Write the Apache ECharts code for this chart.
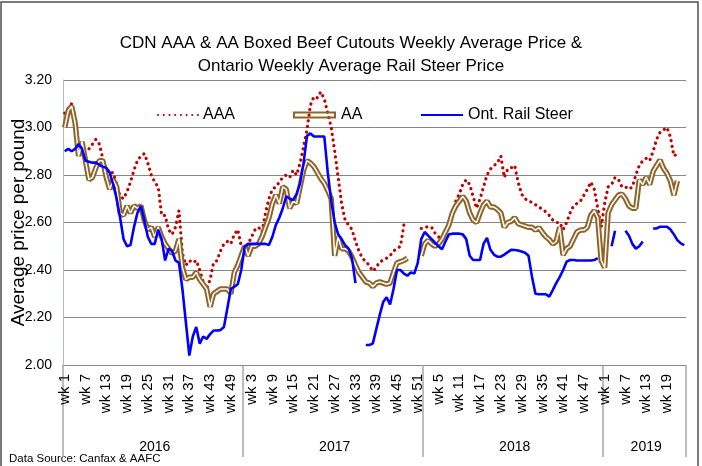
<!DOCTYPE html>
<html><head><meta charset="utf-8">
<script src="https://cdn.jsdelivr.net/npm/echarts@6/dist/echarts.min.js"></script>
<style>html,body{margin:0;padding:0;background:#fff}#c{width:702px;height:466px}</style>
</head><body><div id="c"></div>
<script>
// ---- data ----
const years = ['2016', '2017', '2018', '2019'];
const weekCounts = [52, 52, 52, 24];

const aaa2016 = [3.06,3.08,3.10,3.03,2.93,2.90,2.91,2.91,2.93,2.95,
  2.93,2.87,2.82,2.81,2.81,2.76,2.71,2.70,2.73,2.77,
  2.82,2.86,2.88,2.89,2.85,2.80,2.77,2.75,2.63,2.63,
  2.57,2.55,2.58,2.65,2.47,2.42,2.44,2.43,2.44,2.40,
  2.35,2.32,2.36,2.43,2.44,2.48,2.51,2.52,2.51,2.55,
  2.57,2.50];
const aaa2017 = [2.49,2.51,2.54,2.57,2.58,2.56,2.64,2.70,2.74,2.75,
  2.77,2.79,2.80,2.79,2.82,2.80,2.85,2.92,2.99,3.095,
  3.13,3.125,3.15,3.12,3.06,3.00,2.90,2.79,2.68,2.61,
  2.59,2.57,2.52,2.48,2.45,2.435,2.42,2.395,2.41,2.435,
  2.44,2.45,2.46,2.48,2.49,2.50,2.59,null,null,null,
  null,2.575];
const aaa2018 = [2.58,2.582,2.58,2.555,2.54,2.527,2.555,2.58,2.64,2.69,
  2.72,2.76,2.78,2.76,2.71,2.66,2.70,2.75,2.80,2.825,
  2.84,2.85,2.88,2.79,2.825,2.83,2.84,2.77,2.72,2.70,
  2.69,2.685,2.675,2.665,2.655,2.645,2.63,2.61,2.60,2.60,
  2.57,2.60,2.64,2.67,2.68,2.69,2.715,2.74,2.77,2.74,
  2.66,2.58];
const aaa2019 = [2.68,2.75,2.76,2.79,2.78,2.75,2.75,2.74,2.75,2.80,
  2.84,2.86,2.87,2.86,2.90,2.95,2.98,2.99,3.00,2.96,
  2.88,2.89,null,null];

const aa2016 = [3.00,3.07,3.09,3.02,2.88,2.94,2.86,2.78,2.79,2.83,
  2.86,2.86,2.79,2.74,2.78,2.75,2.64,2.63,2.67,2.64,
  2.67,2.66,2.67,2.61,2.57,2.58,2.54,2.58,2.54,2.51,
  2.49,2.47,2.48,2.53,2.41,2.36,2.37,2.37,2.39,2.36,
  2.34,2.32,2.245,2.30,2.31,2.32,2.32,2.32,2.30,2.39,
  2.42,2.46];
const aa2017 = [2.50,2.46,2.50,2.50,2.51,2.54,2.58,2.62,2.68,2.716,
  2.68,2.75,2.74,2.66,2.69,2.68,2.75,2.82,2.86,2.85,
  2.835,2.81,2.785,2.765,2.735,2.70,2.46,2.54,2.49,2.49,
  2.48,2.455,2.42,2.39,2.37,2.35,2.345,2.33,2.345,2.35,
  2.345,2.34,2.345,2.39,2.43,2.435,2.44,2.45,null,null,
  null,2.46];
const aa2018 = [2.51,2.525,2.51,2.50,2.51,2.53,2.56,2.59,2.64,2.67,
  2.69,2.71,2.69,2.64,2.61,2.60,2.64,2.675,2.69,2.665,
  2.665,2.655,2.64,2.58,2.60,2.605,2.62,2.595,2.59,2.585,
  2.58,2.58,2.568,2.578,2.558,2.54,2.528,2.51,2.52,2.58,
  2.463,2.49,2.50,2.53,2.56,2.568,2.568,2.58,2.63,2.65,
  2.62,2.44];
const aa2019 = [2.41,2.64,2.675,2.695,2.715,2.72,2.70,2.67,2.66,2.66,
  2.78,2.76,2.79,2.76,2.815,2.84,2.863,2.828,2.807,2.775,
  2.715,2.775,null,null];

const ont2016 = [2.90,2.91,2.90,2.91,2.93,2.91,2.86,2.856,2.852,2.852,
  2.842,2.835,2.83,2.81,2.76,2.70,2.62,2.53,2.50,2.505,
  2.58,2.64,2.67,2.61,2.54,2.51,2.51,2.57,2.53,2.44,
  2.49,2.48,2.44,2.43,2.32,2.18,2.04,2.12,2.16,2.09,
  2.12,2.11,2.13,2.145,2.145,2.147,2.16,2.24,2.32,2.33,
  2.34,2.40];
const ont2017 = [2.50,2.51,2.51,2.51,2.51,2.51,2.51,2.505,2.54,2.59,
  2.62,2.66,2.71,2.70,2.695,2.72,2.765,2.85,2.965,2.975,
  2.962,2.962,2.962,2.962,2.81,2.69,2.60,2.55,2.53,2.505,
  2.49,2.45,2.345,null,null,2.084,2.084,2.09,2.15,2.21,
  2.265,2.285,2.255,2.32,2.40,2.40,2.385,2.376,2.39,2.385,
  2.43,2.53];
const ont2018 = [2.56,2.545,2.53,2.515,2.50,2.487,2.52,2.55,2.553,2.553,
  2.553,2.55,2.53,2.46,2.442,2.442,2.442,2.51,2.535,2.485,
  2.465,2.456,2.456,2.465,2.475,2.485,2.484,2.482,2.478,2.473,
  2.46,2.372,2.30,2.298,2.298,2.298,2.288,2.315,2.345,2.37,
  2.40,2.435,2.442,2.442,2.44,2.44,2.44,2.44,2.44,2.442,
  2.45,null];
const ont2019 = [null,null,2.50,2.565,null,null,2.565,2.545,2.51,2.49,
  2.50,2.52,null,null,2.575,2.575,2.582,2.582,2.582,2.571,
  2.55,2.526,2.512,2.505];

const yMin = 2.0, yMax = 3.2, yStep = 0.2;

// ---- derived ----
const aaa = [].concat(aaa2016, aaa2017, aaa2018, aaa2019);
const aa = [].concat(aa2016, aa2017, aa2018, aa2019);
const ont = [].concat(ont2016, ont2017, ont2018, ont2019);
const weekCats = [], yearCats = [], yearStarts = [], yearMids = [];
let acc = 0;
years.forEach((y, k) => {
  yearStarts.push(acc);
  yearMids.push(acc + Math.floor(weekCounts[k] / 2));
  for (let w = 1; w <= weekCounts[k]; w++) { weekCats.push('wk ' + w); yearCats.push(y); }
  acc += weekCounts[k];
});

const FONT = "'Liberation Sans', Arial, sans-serif";
const BROWN = '#8f6428';

const chart = echarts.init(document.getElementById('c'), null, {renderer: 'canvas'});
chart.setOption({
  animation: false,
  backgroundColor: '#fff',
  textStyle: {fontFamily: FONT, color: '#000'},
  title: {
    text: 'CDN AAA & AA Boxed Beef Cutouts Weekly Average Price &\nOntario Weekly Average Rail Steer Price',
    left: 'center', top: 27,
    textStyle: {fontFamily: FONT, fontSize: 17, fontWeight: 'normal', color: '#000', lineHeight: 23}
  },
  legend: [
    {data: ['AAA'], left: 152, top: 102, itemWidth: 40, itemHeight: 14, itemStyle: {opacity: 0},
     textStyle: {fontFamily: FONT, fontSize: 16, color: '#000'}},
    {data: [{name: 'AA', icon: 'path://M0,0H43V7H0Z M2,2V5H41V2Z'}], left: 288, top: 102, itemWidth: 43, itemHeight: 7,
     textStyle: {fontFamily: FONT, fontSize: 16, color: '#000'}},
    {data: ['Ont. Rail Steer'], left: 415, top: 102, itemWidth: 42, itemHeight: 14, itemStyle: {opacity: 0},
     textStyle: {fontFamily: FONT, fontSize: 16, color: '#000'}}
  ],
  grid: {left: 63, right: 16, top: 80, bottom: 101, containLabel: false, outerBoundsMode: 'none'},
  xAxis: [
    {type: 'category', data: weekCats, boundaryGap: true,
     axisLine: {lineStyle: {color: '#868686', width: 1}},
     axisTick: {show: false},
     axisLabel: {interval: 5, rotate: 90, fontSize: 15, margin: 9, color: '#000', fontFamily: FONT}},
    {type: 'category', data: yearCats, boundaryGap: true, position: 'bottom',
     axisLine: {show: false},
     axisTick: {show: true, interval: (i) => yearStarts.includes(i), length: 92,
                lineStyle: {color: '#a6a6a6', width: 1.5}},
     axisLabel: {interval: (i) => yearMids.includes(i), margin: 75, fontSize: 14, color: '#000', fontFamily: FONT}}
  ],
  yAxis: {
    type: 'value', min: yMin, max: yMax, interval: yStep,
    name: 'Average price per pound', nameLocation: 'middle', nameGap: 35, nameMoveOverlap: false,
    nameTextStyle: {fontFamily: FONT, fontSize: 19, color: '#000'},
    axisLine: {show: true, lineStyle: {color: '#a9bcd8', width: 1}},
    axisTick: {show: false},
    axisLabel: {formatter: (v) => v.toFixed(2), fontSize: 14, margin: 11, color: '#000', fontFamily: FONT},
    splitLine: {lineStyle: {color: '#868686', width: 1}}
  },
  series: [
    {name: 'AAA', type: 'line', data: aaa, xAxisIndex: 0, symbol: 'none', connectNulls: false,
     color: '#c00000',
     lineStyle: {color: '#c00000', width: 3.2, type: [0.1, 5.6], cap: 'round'}},
    {name: 'AA', type: 'line', data: aa, xAxisIndex: 0, symbol: 'none', connectNulls: false,
     color: BROWN, lineStyle: {color: BROWN, width: 5.5}},
    {name: 'AA inner', type: 'line', data: aa, xAxisIndex: 0, symbol: 'none', connectNulls: false,
     color: '#fff', lineStyle: {color: '#ffffff', width: 1.5}, silent: true},
    {name: 'Ont. Rail Steer', type: 'line', data: ont, xAxisIndex: 0, symbol: 'none', connectNulls: false,
     color: '#0000ff', lineStyle: {color: '#0000ff', width: 2.6}}
  ],
  graphic: [
    {type: 'rect', shape: {x: 1, y: 2, width: 697, height: 480}, style: {fill: 'none', stroke: '#505050', lineWidth: 1.5}, silent: true},
    {type: 'text', left: 9, top: 453, style: {text: 'Data Source: Canfax & AAFC', fontFamily: FONT, fontSize: 11.5, fill: '#000'}}
  ]
});
</script></body></html>
